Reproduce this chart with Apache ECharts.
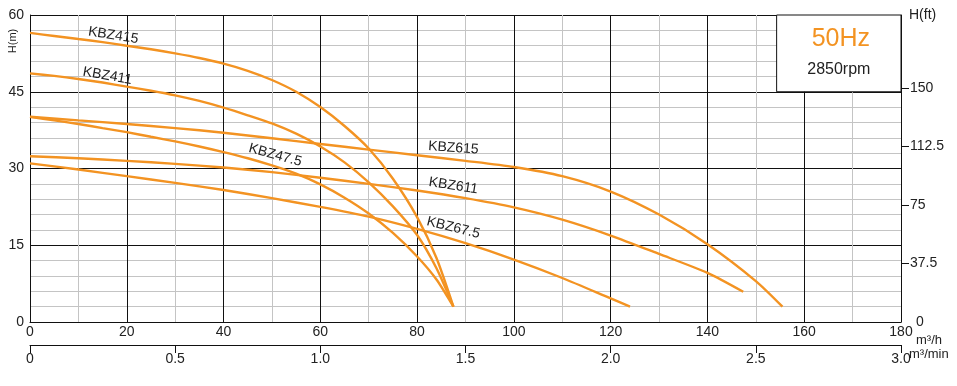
<!DOCTYPE html>
<html>
<head>
<meta charset="utf-8">
<script src="https://cdn.jsdelivr.net/npm/echarts@6/dist/echarts.min.js"></script>
<style>
html,body{margin:0;padding:0;background:#fff;}
#c{width:957px;height:386px;}
</style>
</head>
<body>
<div id="c"></div>
<script>
// ---- data (Q in m3/h, H in m) ----
const q415 = [0, 5, 10, 15, 20, 25, 30, 35, 40, 45, 50, 55, 60, 65, 70, 75, 80, 84, 87.5];
const h415 = [56.5, 55.9, 55.3, 54.7, 54.0, 53.3, 52.5, 51.6, 50.5, 49.1, 47.3, 45.0, 42.0, 38.3, 33.9, 28.0, 20.5, 12.5, 3.0];
const q411 = [0, 5, 10, 15, 20, 25, 30, 35, 40, 45, 50, 55, 60, 65, 70, 75, 80, 84, 87.5];
const h411 = [48.6, 48.1, 47.5, 46.8, 46.0, 45.2, 44.3, 43.2, 41.9, 40.4, 38.8, 36.8, 34.3, 31.2, 27.3, 22.6, 17.0, 10.5, 3.0];
const q475 = [0, 5, 10, 15, 20, 25, 30, 35, 40, 45, 50, 55, 60, 65, 70, 75, 80, 84, 87.5];
const h475 = [40.1, 39.4, 38.7, 37.9, 37.1, 36.2, 35.3, 34.3, 33.2, 32.0, 30.6, 29.0, 26.9, 24.3, 21.2, 17.4, 12.8, 8.3, 3.0];
const q615 = [0, 10, 20, 30, 40, 50, 60, 70, 80, 90, 100, 110, 120, 130, 140, 150, 155.5];
const h615 = [40.1, 39.4, 38.7, 37.9, 37.0, 35.9, 34.8, 33.7, 32.6, 31.5, 30.3, 28.5, 25.5, 21.0, 15.2, 8.0, 3.0];
const q611 = [0, 10, 20, 30, 40, 50, 60, 70, 80, 90, 100, 110, 120, 130, 140, 147.4];
const h611 = [32.4, 32.0, 31.5, 30.9, 30.2, 29.3, 28.2, 27.0, 25.7, 24.2, 22.4, 20.0, 16.9, 13.3, 9.6, 5.9];
const q675 = [0, 10, 20, 30, 40, 50, 60, 70, 80, 90, 100, 110, 120, 124];
const h675 = [31.0, 29.8, 28.5, 27.2, 25.8, 24.2, 22.5, 20.6, 18.2, 15.4, 12.2, 8.6, 4.6, 3.0];

const modelNames = ['KBZ415', 'KBZ411', 'KBZ47.5', 'KBZ615', 'KBZ611', 'KBZ67.5'];
// label anchor in data space (Q, H)
const labelQ = [17.2, 16.0, 50.7, 87.5, 87.5, 87.5];
const labelH = [56.0, 48.1, 32.6, 34.0, 26.6, 18.4];

const flowMajorStep = 20;
const headFtTicks = [37.5, 75, 112.5, 150];
const headFtLabels = [0, 37.5, 75, 112.5, 150];

const freqText = '50Hz';
const speedText = '2850rpm';

// ---- styles ----
const ORANGE = '#F39322';
const FONT = '"Liberation Sans", Arial, Helvetica, sans-serif';
const TXT = '#222';
const labelRot = [-9, -10, -15, -4, -9, -14];

const qs = [q415, q411, q475, q615, q611, q675];
const hs = [h415, h411, h475, h615, h611, h675];

const series = modelNames.map((name, i) => ({
  name: name,
  type: 'line',
  xAxisIndex: 0,
  yAxisIndex: 0,
  data: qs[i].map((q, j) => [q, hs[i][j]]),
  showSymbol: false,
  symbol: 'none',
  smooth: 0.25,
  lineStyle: { color: ORANGE, width: 2.4 },
  z: 3,
  markPoint: {
    symbol: 'circle',
    symbolSize: 0,
    silent: true,
    data: [{ coord: [labelQ[i], labelH[i]], value: name }],
    label: {
      show: true,
      position: 'inside',
      formatter: name,
      rotate: labelRot[i],
      fontFamily: FONT,
      fontSize: 14,
      color: TXT
    }
  }
}));

// info box
series.push({
  type: 'line',
  xAxisIndex: 0,
  yAxisIndex: 0,
  data: [],
  z: 4,
  markArea: {
    silent: true,
    itemStyle: { color: '#fff', opacity: 1, borderColor: '#111', borderWidth: 1 },
    label: {
      show: true,
      position: 'inside',
      formatter: '{a|' + freqText + '}\n{b|' + speedText + '}',
      rich: {
        a: { fontFamily: FONT, fontSize: 25, color: ORANGE, lineHeight: 32, align: 'center', padding: [0, 0, 0, 4] },
        b: { fontFamily: FONT, fontSize: 16, color: TXT, lineHeight: 28, align: 'center' }
      }
    },
    data: [[{ xAxis: 154.3, yAxis: 45 }, { xAxis: 180, yAxis: 60 }]]
  }
});

const chart = echarts.init(document.getElementById('c'), null, { renderer: 'canvas' });
chart.setOption({
  animation: false,
  backgroundColor: '#fff',
  grid: { left: 30, right: 56, top: 15, bottom: 64, containLabel: false },
  xAxis: [
    {
      type: 'value', min: 0, max: 180, interval: 10, position: 'bottom',
      axisLine: { show: true, onZero: false, lineStyle: { color: '#111', width: 1 } },
      axisTick: { show: false },
      axisLabel: { margin: 3, fontFamily: FONT, fontSize: 14, color: TXT,
        formatter: v => (Math.round(v) % flowMajorStep === 0 ? String(v) : '') },
      splitLine: { show: true, lineStyle: { color: ['#111', '#c4c4c4'], width: 1 } }
    },
    {
      type: 'value', min: 0, max: 3, interval: 0.5, position: 'bottom', offset: 23,
      axisLine: { show: true, onZero: false, lineStyle: { color: '#111', width: 1 } },
      axisTick: { show: true, length: 8, inside: false, lineStyle: { color: '#111' } },
      axisLabel: { margin: 7, fontFamily: FONT, fontSize: 14, color: TXT,
        formatter: v => (v === 0 ? '0' : v.toFixed(1)) },
      splitLine: { show: false }
    }
  ],
  yAxis: [
    {
      type: 'value', min: 0, max: 60, interval: 15, position: 'left',
      axisLine: { show: true, onZero: false, lineStyle: { color: '#111', width: 1 } },
      axisTick: { show: false },
      minorTick: { show: false, splitNumber: 5 },
      axisLabel: { margin: 6, fontFamily: FONT, fontSize: 14, color: TXT },
      splitLine: { show: true, lineStyle: { color: '#111', width: 1 } },
      minorSplitLine: { show: true, lineStyle: { color: '#c4c4c4', width: 1 } }
    },
    {
      type: 'value', min: 0, max: 196.85, position: 'right',
      name: 'H(ft)', nameLocation: 'end', nameGap: 0,
      nameTextStyle: { align: 'left', verticalAlign: 'middle', padding: [0, 0, 0, 8],
        fontFamily: FONT, fontSize: 14, color: TXT },
      axisLine: { show: true, onZero: false, lineStyle: { color: '#111', width: 1 } },
      axisTick: { show: true, length: 8, inside: false, customValues: headFtTicks,
        lineStyle: { color: '#111' } },
      axisLabel: { margin: 9, fontFamily: FONT, fontSize: 14, color: TXT,
        customValues: headFtLabels,
        formatter: v => (v === 0 ? '{z|0}' : String(v)),
        rich: { z: { fontFamily: FONT, fontSize: 14, color: TXT, padding: [0, 0, 0, 6] } } },
      splitLine: { show: false }
    }
  ],
  graphic: [
    { type: 'text', x: 13, y: 41, rotation: Math.PI / 2, silent: true,
      style: { text: 'H(m)', font: '11px ' + FONT, fill: TXT,
        textAlign: 'center', textVerticalAlign: 'middle', align: 'center', verticalAlign: 'middle' } },
    { type: 'text', x: 916, y: 340, silent: true,
      style: { text: 'm³/h', font: '13px ' + FONT, fill: TXT,
        textAlign: 'left', textVerticalAlign: 'middle', align: 'left', verticalAlign: 'middle' } },
    { type: 'text', x: 909, y: 354, silent: true,
      style: { text: 'm³/min', font: '13px ' + FONT, fill: TXT,
        textAlign: 'left', textVerticalAlign: 'middle', align: 'left', verticalAlign: 'middle' } }
  ],
  series: series
});
</script>
</body>
</html>
